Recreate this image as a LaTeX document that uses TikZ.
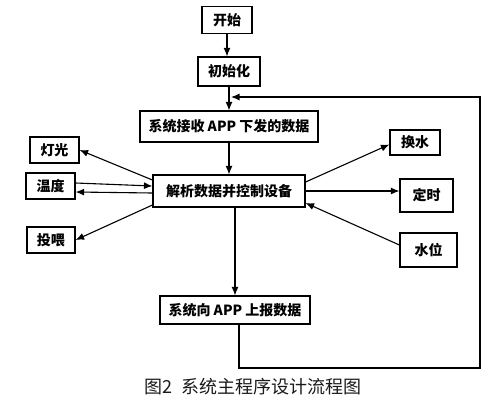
\documentclass[tikz,border=0pt]{standalone}
\usepackage{fontspec}
\newfontfamily\cjk{Noto Sans CJK SC}
\usetikzlibrary{arrows.meta}
\begin{document}
\begin{tikzpicture}[x=1pt,y=-1pt]
\tikzset{box/.style={draw=black,line width=1.2pt,inner sep=0pt,font=\cjk\bfseries\fontsize{14pt}{16pt}\selectfont},
    arr/.style={line width=1.1pt,-{Latex[length=8.5pt,width=7pt]}}}

\useasboundingbox (0,0) rectangle (488,400);

\node[box,minimum width=50pt,minimum height=27pt] (start) at (227,20) {开始};
\node[box,minimum width=62pt,minimum height=29pt] (init) at (229,71.5) {初始化};
\node[box,minimum width=178pt,minimum height=31pt] (recv) at (229,126.5) {系统接收 APP 下发的数据};
\node[box,minimum width=152pt,minimum height=32pt] (parse) at (229,191) {解析数据并控制设备};
\node[box,minimum width=150pt,minimum height=28pt] (report) at (235,310) {系统向 APP 上报数据};

\node[box,minimum width=49pt,minimum height=26pt] (light) at (54.5,150) {灯光};
\node[box,minimum width=49pt,minimum height=26pt] (temp) at (50.5,186) {温度};
\node[box,minimum width=48pt,minimum height=26pt] (feed) at (51,240) {投喂};
\node[box,minimum width=50pt,minimum height=25pt] (water) at (415,142.5) {换水};
\node[box,minimum width=53pt,minimum height=33pt] (timer) at (426.5,195.5) {定时};
\node[box,minimum width=57pt,minimum height=34pt] (level) at (428.5,250) {水位};

\node[font=\cjk\fontsize{18pt}{20pt}\selectfont,text=black!90] (caption) at (253,387) {图2\ \ 系统主程序设计流程图};

\coordinate (loopbr) at (480,368);
\coordinate (looptr) at (480,97);
\coordinate (merge) at (231,97);

\draw[arr] (start.south) -- (start.south |- init.north);
\draw[arr] (init.south) -- (init.south |- recv.north);
\draw[arr] (recv.south) -- (parse.north);
\draw[arr] ([yshift=11pt]parse.west) -- (light.east);
\draw[arr] ([yshift=3pt]temp.east) -- ([yshift=5pt]parse.west);
\draw[arr] ([yshift=-2pt]parse.west) -- ([yshift=-6pt]temp.east);
\draw[arr] ([yshift=-14pt]parse.west) -- (feed.east);
\draw[arr] ([yshift=9pt]parse.east) -- ([yshift=-2pt]water.west);
\draw[arr] (parse.east) -- (parse.east -| timer.west);
\draw[arr] ([yshift=5pt]level.west) -- ([yshift=-12pt]parse.east);
\draw[arr] ([xshift=6pt]parse.south) -- (report.north);
\draw[arr] ([xshift=4pt]report.south) |- (loopbr) -- (looptr) -- (merge);

\end{tikzpicture}
\end{document}
